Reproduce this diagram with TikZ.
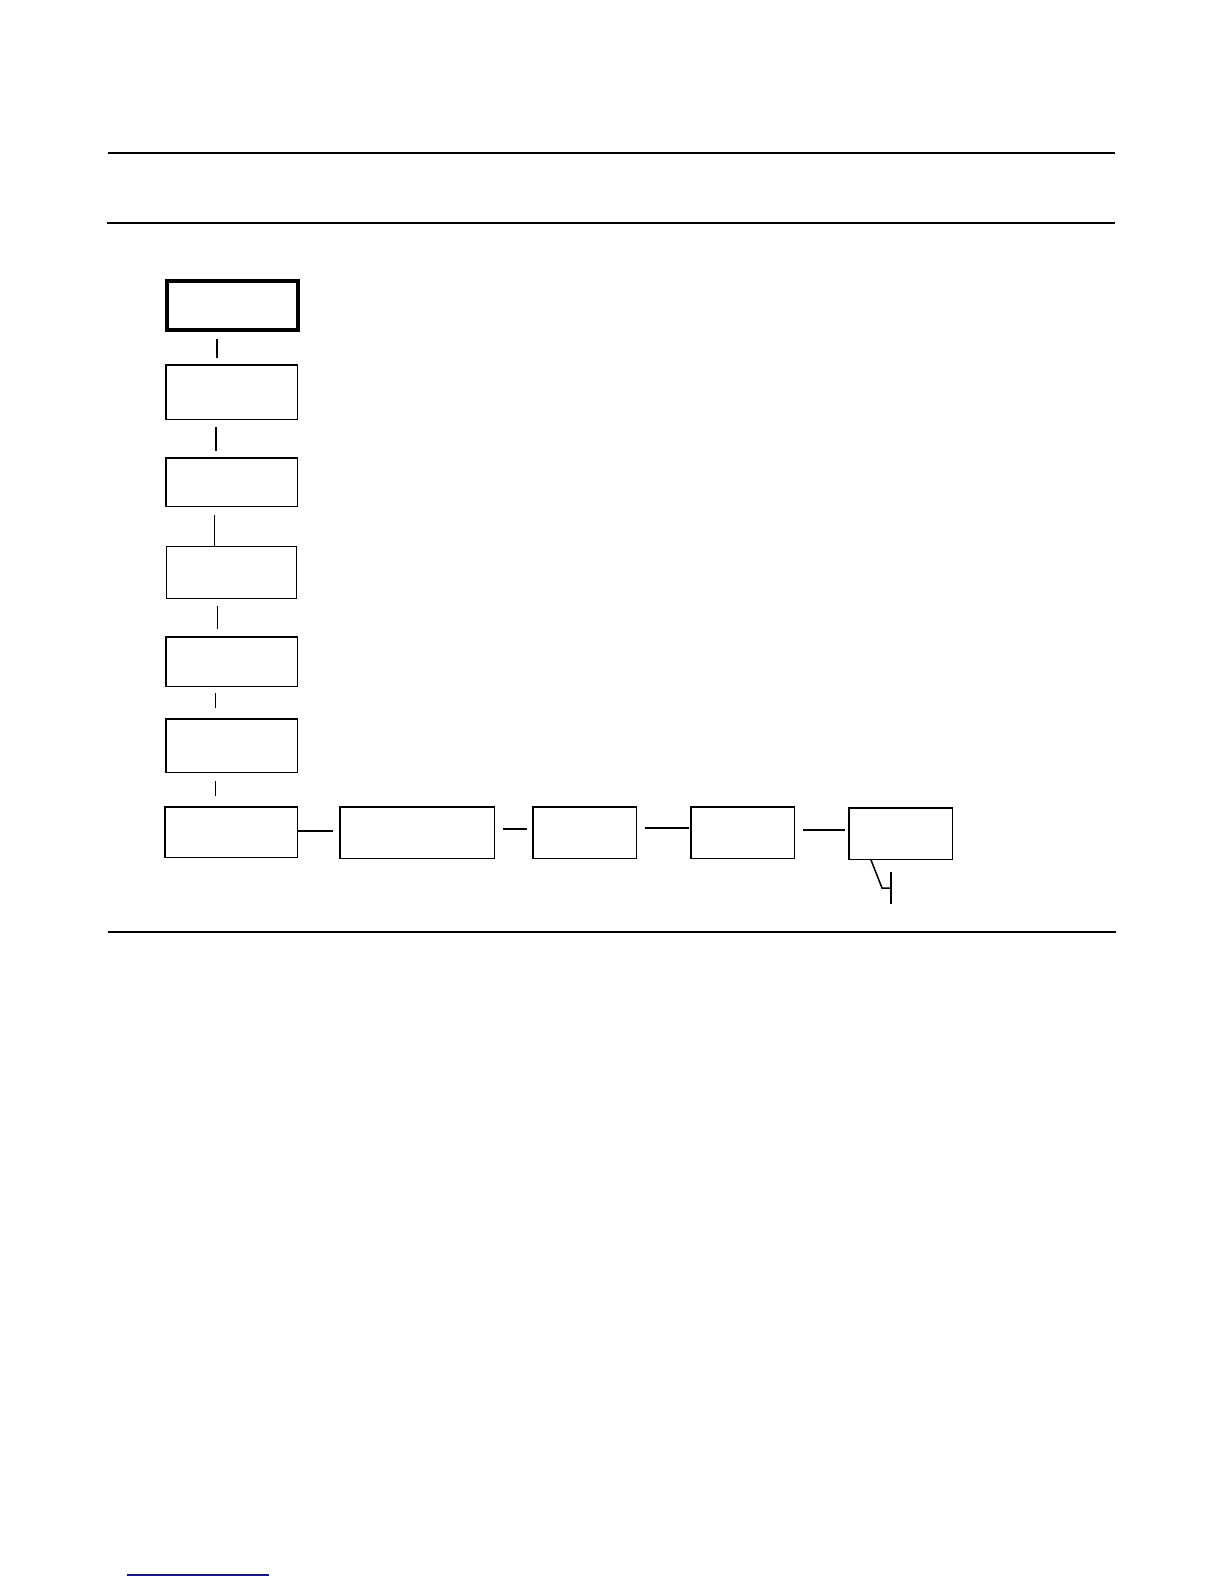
\documentclass[tikz,border=0pt]{standalone}
\usetikzlibrary{calc}
\definecolor{linkblue}{RGB}{20,20,140}
\tikzset{
  box/.style={draw=black, rectangle, line width=1.5pt, inner sep=0pt, outer sep=0pt},
  thickbox/.style={box, line width=4pt},
  thinbox/.style={box, line width=1pt},
  conn/.style={draw=black, line width=1.5pt},
  thinconn/.style={draw=black, line width=1pt},
  rule/.style={draw=black, line width=1.3pt},
}
\begin{document}
\begin{tikzpicture}[x=1pt,y=-1pt]
\useasboundingbox (0,0) rectangle (1224,1584);
% rules
\coordinate (r1a) at (108,153); \coordinate (r1b) at (1115,153);
\coordinate (r2a) at (107,223); \coordinate (r2b) at (1115,223);
\coordinate (r3a) at (108,932); \coordinate (r3b) at (1116,932);
\coordinate (la) at (127,1575); \coordinate (lb) at (269,1575);
\draw[rule] (r1a) -- (r1b);
\draw[rule, line width=2.4pt] (r2a) -- (r2b);
\draw[rule] (r3a) -- (r3b);
\draw[linkblue, line width=1.5pt] (la) -- (lb);
% vertical column
\node[thickbox, minimum width=131pt, minimum height=49pt] (b1) at (232.5,305.5) {};
\node[box, minimum width=131.5pt, minimum height=54.5pt] (b2) at (231.5,392) {};
\node[box, minimum width=131.5pt, minimum height=48.5pt] (b3) at (231.5,482) {};
\node[thinbox, minimum width=130pt, minimum height=52pt] (b4) at (231.5,572.5) {};
\node[box, minimum width=131.5pt, minimum height=49.5pt] (b5) at (231.5,661.5) {};
\node[box, minimum width=131.5pt, minimum height=53.5pt] (b6) at (231.5,745.5) {};
\node[box, minimum width=132.5pt, minimum height=50.5pt] (b7) at (231,832) {};
% horizontal row
\node[box, minimum width=154.5pt, minimum height=51.5pt] (b8) at (417,832.5) {};
\node[box, minimum width=103.5pt, minimum height=51.5pt] (b9) at (584.5,832.5) {};
\node[box, minimum width=103.5pt, minimum height=51.5pt] (b10) at (742.5,832.5) {};
\node[box, minimum width=103.5pt, minimum height=51.5pt] (b11) at (900.5,833.5) {};
% vertical connectors
\draw[conn, line width=2pt] ([xshift=-15.5pt,yshift=-9pt]b1.south) -- ([xshift=-14.5pt,yshift=6.75pt]b2.north);
\draw[conn, line width=2pt] ([xshift=-15.5pt,yshift=-7.75pt]b2.south) -- ([xshift=-15.5pt,yshift=6.75pt]b3.north);
\draw[thinconn] ([xshift=-17.5pt,yshift=-8.75pt]b3.south) -- ([xshift=-17.5pt,yshift=0.5pt]b4.north);
\draw[thinconn] ([xshift=-14.5pt,yshift=-7.5pt]b4.south) -- ([xshift=-14.5pt,yshift=7.75pt]b5.north);
\draw[thinconn] ([xshift=-16.5pt,yshift=-6.75pt]b5.south) -- ([xshift=-16.5pt,yshift=10.75pt]b6.north);
\draw[thinconn] ([xshift=-16.5pt,yshift=-8.75pt]b6.south) -- ([xshift=-16pt,yshift=10.75pt]b7.north);
% horizontal connectors
\draw[conn, line width=2pt] ([yshift=1pt]b7.east) -- ([xshift=-6.75pt,yshift=1.5pt]b8.west);
\draw[conn, line width=2pt] ([xshift=8.75pt,yshift=3.5pt]b8.east) -- ([xshift=-5.75pt,yshift=3.5pt]b9.west);
\draw[conn, line width=2pt] ([xshift=8.75pt,yshift=4.5pt]b9.east) -- ([xshift=-1.75pt,yshift=4.5pt]b10.west);
\draw[conn, line width=2pt] ([xshift=8.75pt,yshift=2.5pt]b10.east) -- ([xshift=-3.75pt,yshift=3.5pt]b11.west);
% bracket callout
\coordinate (k1) at (882,888);
\coordinate (k2) at (891,888);
\coordinate (k3) at (891,872);
\coordinate (k4) at (891,904);
\draw[conn] ([xshift=-29.5pt,yshift=-0.75pt]b11.south) -- (k1) -- (k2);
\draw[conn] (k3) -- (k4);
\end{tikzpicture}
\end{document}
